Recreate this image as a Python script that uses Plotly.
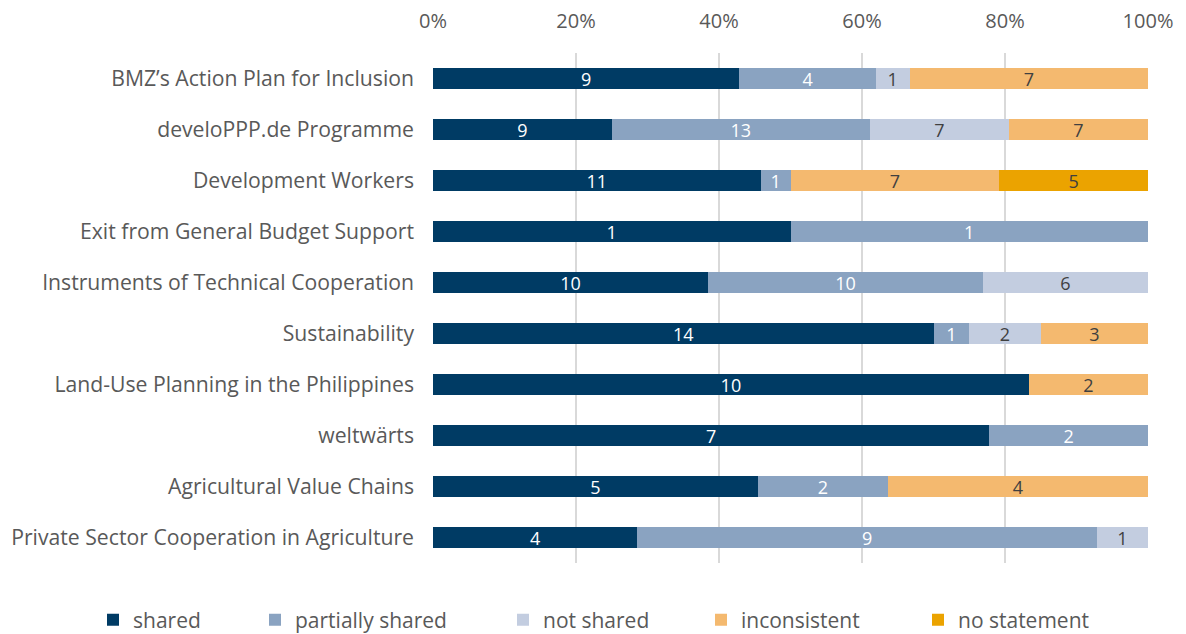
import plotly.graph_objects as go

# categories, top to bottom
categories = [
    "BMZ’s Action Plan for Inclusion",
    "develoPPP.de Programme",
    "Development Workers",
    "Exit from General Budget Support",
    "Instruments of Technical Cooperation",
    "Sustainability",
    "Land-Use Planning in the Philippines",
    "weltwärts",
    "Agricultural Value Chains",
    "Private Sector Cooperation in Agriculture",
]

# counts per assessment
shared = [9, 9, 11, 1, 10, 14, 10, 7, 5, 4]
partially_shared = [4, 13, 1, 1, 10, 1, 0, 2, 2, 9]
not_shared = [1, 7, 0, 0, 6, 2, 0, 0, 0, 1]
inconsistent = [7, 7, 7, 0, 0, 3, 2, 0, 4, 0]
no_statement = [0, 0, 5, 0, 0, 0, 0, 0, 0, 0]

xtick_vals = [0, 20, 40, 60, 80, 100]

series = [
    ("shared", shared, "#003b64", "white"),
    ("partially shared", partially_shared, "#8aa3c1", "white"),
    ("not shared", not_shared, "#c3cde0", "#404040"),
    ("inconsistent", inconsistent, "#f4b96f", "#404040"),
    ("no statement", no_statement, "#eba300", "#404040"),
]

# the page puts the figure 8px in from the top-left corner
OFF = 8
W, H = 1186 - OFF, 634 - OFF

# one legend per series so the entries sit where the original has them
legend_x = [93, 255, 503, 701, 918]

FONT = "Open Sans"

fig = go.Figure()
for i, (name, vals, color, tcolor) in enumerate(series):
    lg = "legend" if i == 0 else f"legend{i + 1}"
    fig.add_trace(go.Bar(
        y=categories,
        x=vals,
        name=name,
        orientation="h",
        marker=dict(color=color, line=dict(width=0)),
        text=[str(v) if v else "" for v in vals],
        textposition="inside",
        insidetextanchor="middle",
        textangle=0,
        textfont=dict(family=FONT, size=18, color=tcolor),
        legend=lg,
        showlegend=True,
    ))

legends = {}
for i, lx in enumerate(legend_x):
    key = "legend" if i == 0 else f"legend{i + 1}"
    legends[key] = dict(
        orientation="h",
        xref="container", yref="container",
        x=(lx - OFF) / W, xanchor="left",
        y=1 - (620 - OFF) / H, yanchor="middle",
        font=dict(family=FONT, size=21, color="#595959"),
        itemwidth=30,
        bgcolor="rgba(0,0,0,0)",
    )

fig.update_layout(
    showlegend=True,
    barmode="stack",
    barnorm="percent",
    bargap=0.6,
    width=W,
    height=H,
    margin=dict(l=433 - OFF, r=W - (1148 - OFF), t=53 - OFF, b=H - (563 - OFF), autoexpand=False),
    paper_bgcolor="white",
    plot_bgcolor="white",
    font=dict(family=FONT, size=21, color="#595959"),
    uniformtext=dict(minsize=18, mode="show"),
    **legends,
)

fig.update_xaxes(
    side="top",
    range=[0, 100],
    tickvals=xtick_vals,
    ticktext=[f"{v}%" for v in xtick_vals],
    showgrid=True,
    gridcolor="#d9d9d9",
    gridwidth=2,
    zeroline=False,
    showline=False,
    ticks="",
    automargin=False,
    ticklabelstandoff=20,
    tickfont=dict(family=FONT, size=20, color="#595959"),
)
fig.update_yaxes(
    autorange="reversed",
    showgrid=False,
    zeroline=False,
    showline=False,
    ticks="",
    automargin=False,
    ticklabelstandoff=18,
    tickfont=dict(family=FONT, size=21.2, color="#595959"),
)

fig.write_html("out.html")
